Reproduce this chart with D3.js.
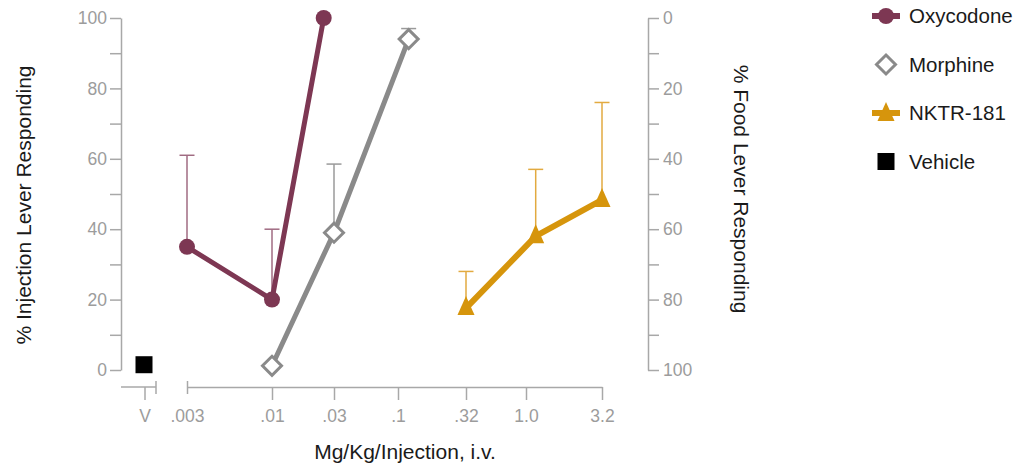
<!DOCTYPE html>
<html>
<head>
<meta charset="utf-8">
<script src="https://cdn.jsdelivr.net/npm/d3@7"></script>
<style>
  body { margin: 0; background: #fff; }
  svg { font-family: "Helvetica Neue", "Liberation Sans", Arial, sans-serif; }
  .axis path, .axis line { stroke: #a8a8a8; stroke-width: 1.5; }
  .axis text { fill: #9c9c9c; font-size: 17.5px; }
  .title { fill: #1a1a1a; font-size: 21px; }
  .legtext { fill: #1a1a1a; font-size: 20.5px; }
</style>
</head>
<body>
<div id="chart"></div>
<script>
// x axis ticks (dose, mg/kg/injection)
const doseTicks = [0.003, 0.01, 0.03, 0.1, 0.32, 1.0, 3.2];
const doseLabels = [".003", ".01", ".03", ".1", ".32", "1.0", "3.2"];

// series: dose, mean % injection lever, top of error bar
const oxyDose = [0.003, 0.01, 0.025];
const oxyMean = [35, 20, 100];
const oxyUpper = [61, 40, null];

const morDose = [0.01, 0.03, 0.12];
const morMean = [1.2, 39, 94];
const morUpper = [null, 58.5, 97];

const nktrDose = [0.32, 1.16, 3.2];
const nktrMean = [17.6, 38, 48.3];
const nktrUpper = [28, 57, 76];

const vehicleCat = ["V"];
const vehicleMean = [1.5];

const leftTicks = d3.range(0, 101, 10);
const legendNames = ["Oxycodone", "Morphine", "NKTR-181", "Vehicle"];

const width = 1030, height = 468;
const colors = { oxy: "#7d3753", mor: "#8a8a8a", nktr: "#d6950c", veh: "#000" };
const errColors = { oxy: "#a06b82", mor: "#9a9a9a", nktr: "#e2aa40" };

const svg = d3.select("#chart").append("svg")
  .attr("width", width)
  .attr("height", height);

// scales
const x = d3.scaleLog()
  .domain(doseTicks)
  .range([187, 272, 334, 398, 466, 526, 602]);
const xV = d3.scalePoint().domain(vehicleCat).range([94, 194]);
const y = d3.scaleLinear().domain([0, 100]).range([370, 18]);
const yR = d3.scaleLinear().domain([0, 100]).range([18, 370]);

const axisY = 387;

// left axis
svg.append("g")
  .attr("class", "axis")
  .attr("transform", "translate(121,0)")
  .call(d3.axisLeft(y).tickValues(leftTicks)
    .tickFormat(d => (d % 20 === 0 ? d : ""))
    .tickSize(11).tickSizeOuter(0).tickPadding(3));

// right axis
svg.append("g")
  .attr("class", "axis")
  .attr("transform", "translate(648,0)")
  .call(d3.axisRight(yR).tickValues(leftTicks)
    .tickFormat(d => (d % 20 === 0 ? d : ""))
    .tickSize(11).tickSizeOuter(0).tickPadding(4));

// bottom axis, dose part
const xAxis = svg.append("g")
  .attr("class", "axis")
  .attr("transform", `translate(0,${axisY})`)
  .call(d3.axisBottom(x).tickValues(doseTicks)
    .tickFormat((d, i) => doseLabels[i])
    .tickSize(13).tickSizeOuter(0).tickPadding(9.5));
xAxis.select(".tick line").attr("y1", -6).attr("y2", 7);

// bottom axis, vehicle part
const gV = svg.append("g")
  .attr("class", "axis")
  .attr("transform", `translate(0,${axisY})`);
const vx = xV("V");
gV.append("path").attr("d", `M${vx - 23},0H${vx + 12}`).attr("fill", "none");
gV.append("line").attr("x1", vx + 1).attr("x2", vx + 1).attr("y1", 0).attr("y2", 13);
gV.append("line").attr("x1", vx + 12).attr("x2", vx + 12).attr("y1", -6).attr("y2", 7);
gV.append("text")
  .attr("x", vx + 1).attr("y", 22.5).attr("dy", "0.71em")
  .attr("text-anchor", "middle")
  .text("V");

// axis titles
svg.append("text")
  .attr("class", "title")
  .attr("text-anchor", "middle")
  .attr("transform", "translate(31,205) rotate(-90)")
  .text("% Injection Lever Responding");

svg.append("text")
  .attr("class", "title")
  .attr("text-anchor", "middle")
  .attr("transform", "translate(734,189) rotate(90)")
  .text("% Food Lever Responding");

svg.append("text")
  .attr("class", "title")
  .attr("text-anchor", "middle")
  .attr("x", 405).attr("y", 459)
  .text("Mg/Kg/Injection, i.v.");

// markers
const diamond = "M0,-9.5L9.5,0L0,9.5L-9.5,0Z";
const triangle = "M0,-12L8.5,7L-8.5,7Z";

function drawMarker(g, kind, cx, cy) {
  if (kind === "oxy") {
    g.append("circle").attr("cx", cx).attr("cy", cy).attr("r", 8).attr("fill", colors.oxy);
  } else if (kind === "mor") {
    g.append("path").attr("d", diamond)
      .attr("transform", `translate(${cx},${cy})`)
      .attr("fill", "#fff").attr("stroke", colors.mor).attr("stroke-width", 3);
  } else if (kind === "nktr") {
    g.append("path").attr("d", triangle)
      .attr("transform", `translate(${cx},${cy})`)
      .attr("fill", colors.nktr);
  } else {
    g.append("rect").attr("x", cx - 8.5).attr("y", cy - 8.5)
      .attr("width", 17).attr("height", 17).attr("fill", colors.veh);
  }
}

const series = [
  { key: "oxy", dose: oxyDose, mean: oxyMean, upper: oxyUpper, lw: 5 },
  { key: "mor", dose: morDose, mean: morMean, upper: morUpper, lw: 5 },
  { key: "nktr", dose: nktrDose, mean: nktrMean, upper: nktrUpper, lw: 6 }
];

const plot = svg.append("g");

// error bars
series.forEach(s => {
  s.dose.forEach((d, i) => {
    if (s.upper[i] == null) return;
    const cx = x(d);
    plot.append("line")
      .attr("x1", cx).attr("x2", cx)
      .attr("y1", y(s.mean[i])).attr("y2", y(s.upper[i]))
      .attr("stroke", errColors[s.key]).attr("stroke-width", 1.5);
    plot.append("line")
      .attr("x1", cx - 7.5).attr("x2", cx + 7.5)
      .attr("y1", y(s.upper[i])).attr("y2", y(s.upper[i]))
      .attr("stroke", errColors[s.key]).attr("stroke-width", 1.5);
  });
});

// lines
const line = d3.line().x(d => x(d[0])).y(d => y(d[1]));
series.forEach(s => {
  plot.append("path")
    .datum(d3.zip(s.dose, s.mean))
    .attr("d", line)
    .attr("fill", "none")
    .attr("stroke", colors[s.key])
    .attr("stroke-width", s.lw);
});

// points
series.forEach(s => {
  s.dose.forEach((d, i) => drawMarker(plot, s.key, x(d), y(s.mean[i])));
});
vehicleCat.forEach((c, i) => drawMarker(plot, "veh", xV(c), y(vehicleMean[i])));

// legend
const legKeys = ["oxy", "mor", "nktr", "veh"];
const legend = svg.append("g").attr("transform", "translate(886,16)");
legKeys.forEach((k, i) => {
  const g = legend.append("g").attr("transform", `translate(0,${i * 48.5})`);
  if (k === "oxy" || k === "nktr") {
    g.append("line").attr("x1", -14).attr("x2", 14)
      .attr("stroke", colors[k]).attr("stroke-width", 6);
  }
  drawMarker(g, k, 0, k === "nktr" ? 1 : 0);
  g.append("text")
    .attr("class", "legtext")
    .attr("x", 23).attr("dy", "0.36em")
    .text(legendNames[i]);
});
</script>
</body>
</html>
